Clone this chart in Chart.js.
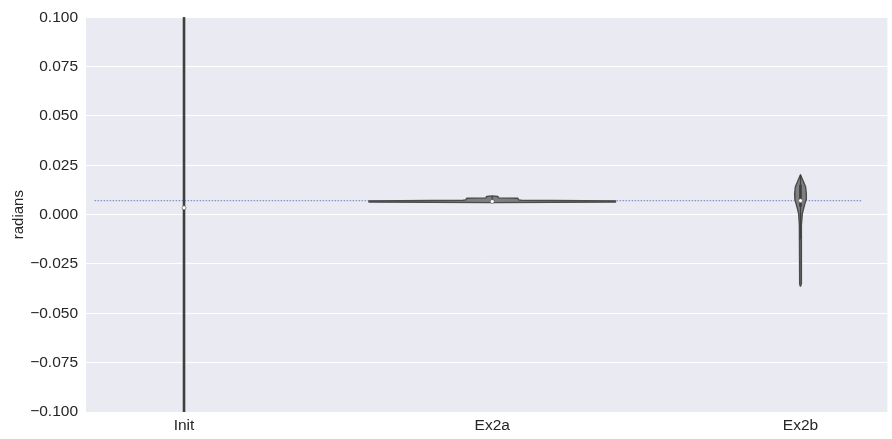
<!DOCTYPE html>
<html>
<head>
<meta charset="utf-8">
<title>radians by run</title>
<script src="https://cdn.jsdelivr.net/npm/chart.js@4.4.1/dist/chart.umd.min.js"></script>
<style>
  html, body { margin: 0; padding: 0; background: #ffffff; }
  #c { display: block; }
</style>
</head>
<body>
<canvas id="c" width="892" height="439"></canvas>
<script>
// Categories along the x axis
const categories = ['Init', 'Ex2a', 'Ex2b'];

// Y tick range
const yMin = -0.1;
const yMax = 0.1;
const yStep = 0.025;

// Violin outlines: value levels (bottom to top) and half-widths in category units
const initLevels     = [-1.0, 1.0];
const initHalfWidths = [0.0005, 0.0005];

const ex2aLevels     = [0.0061, 0.0064, 0.0070, 0.0073, 0.0075, 0.0083, 0.0085, 0.0092, 0.0095];
const ex2aHalfWidths = [0.0,    0.400,  0.400,  0.095,  0.086,  0.083,  0.021,  0.018,  0.0];

const ex2bLevels     = [-0.0364, -0.0352, -0.0263, -0.0152, -0.0051, 0.0005, 0.0040, 0.0076, 0.0106, 0.0141, 0.0177, 0.0202];
const ex2bHalfWidths = [0.0,      0.0025,  0.0025,  0.0028,  0.0036,  0.0060, 0.0115, 0.0180, 0.0190, 0.0165, 0.0070, 0.0];

// Inner box summaries per category
const medians   = [0.0035, 0.0067, 0.0071];
const q1s       = [-1.0, 0.0065, 0.0040];
const q3s       = [1.0, 0.0075, 0.0152];
const whiskerLo = [-1.0, 0.0062, -0.0125];
const whiskerHi = [1.0, 0.0093, 0.0202];

// Dotted reference level
const referenceLevel = 0.0071;
const referenceSpan = [-0.29, 2.2];

const violinFill = '#7f7f7f';
const violinEdge = '#4b4b4b';
const boxColor = '#3f3f3f';
const textColor = '#262626';

function violinOutline(center, levels, halfWidths) {
  const pts = [];
  for (let i = 0; i < levels.length; i++) pts.push({ x: center + halfWidths[i], y: levels[i] });
  for (let i = levels.length - 1; i >= 0; i--) pts.push({ x: center - halfWidths[i], y: levels[i] });
  pts.push({ x: center + halfWidths[0], y: levels[0] });
  return pts;
}

const outlines = [
  [initLevels, initHalfWidths],
  [ex2aLevels, ex2aHalfWidths],
  [ex2bLevels, ex2bHalfWidths]
];

const datasets = [];

// Median markers (drawn on top)
datasets.push({
  type: 'scatter',
  data: medians.map((m, i) => ({ x: i, y: m })),
  pointRadius: 2,
  pointBackgroundColor: '#ffffff',
  pointBorderColor: '#555555',
  pointBorderWidth: 0.6,
  showLine: false,
  order: 0
});

// Interquartile boxes and whiskers
categories.forEach((c, i) => {
  datasets.push({
    type: 'scatter',
    data: [{ x: i, y: q1s[i] }, { x: i, y: q3s[i] }],
    showLine: true,
    borderColor: boxColor,
    borderWidth: 2.6,
    borderCapStyle: 'butt',
    pointRadius: 0,
    fill: false,
    order: 1
  });
  datasets.push({
    type: 'scatter',
    data: [{ x: i, y: whiskerLo[i] }, { x: i, y: whiskerHi[i] }],
    showLine: true,
    borderColor: boxColor,
    borderWidth: 1.2,
    pointRadius: 0,
    fill: false,
    order: 2
  });
});

// Violin bodies
outlines.forEach(([lv, hw], i) => {
  datasets.push({
    type: 'scatter',
    data: violinOutline(i, lv, hw),
    showLine: true,
    fill: 'shape',
    backgroundColor: violinFill,
    borderColor: violinEdge,
    borderWidth: 1.4,
    borderJoinStyle: 'round',
    pointRadius: 0,
    tension: 0,
    order: 3
  });
});

// Reference level (behind everything)
datasets.push({
  type: 'scatter',
  data: [{ x: referenceSpan[0], y: referenceLevel }, { x: referenceSpan[1], y: referenceLevel }],
  showLine: true,
  borderColor: 'rgba(90, 110, 180, 0.7)',
  borderWidth: 1.2,
  borderDash: [1.5, 1.5],
  pointRadius: 0,
  fill: false,
  order: 10
});

const plotBackground = {
  id: 'plotBackground',
  beforeDraw(chart) {
    const { ctx, chartArea: a } = chart;
    ctx.save();
    ctx.fillStyle = '#eaeaf2';
    ctx.fillRect(a.left, a.top, a.right - a.left, a.bottom - a.top);
    ctx.restore();
  }
};

Chart.defaults.font.family = '"Liberation Sans", Arial, sans-serif';
Chart.defaults.color = textColor;

new Chart(document.getElementById('c'), {
  type: 'scatter',
  data: { datasets },
  options: {
    responsive: false,
    animation: false,
    devicePixelRatio: 1,
    layout: { padding: { left: 0, top: 14, right: 4, bottom: 0 } },
    plugins: {
      legend: { display: false },
      tooltip: { enabled: false }
    },
    scales: {
      x: {
        type: 'linear',
        min: -0.318,
        max: 2.282,
        afterBuildTicks(axis) {
          axis.ticks = categories.map((_, i) => ({ value: i }));
        },
        afterFit(scale) { scale.height = 27; },
        grid: { display: false, drawTicks: false },
        border: { display: false },
        ticks: {
          padding: 4,
          font: { size: 15.5 },
          color: textColor,
          maxRotation: 0,
          callback: (v) => categories[v]
        }
      },
      y: {
        type: 'linear',
        min: yMin,
        max: yMax,
        afterFit(scale) { scale.width = 86; },
        grid: { color: '#ffffff', lineWidth: 1, drawTicks: false },
        border: { display: false },
        title: {
          display: true,
          text: 'radians',
          font: { size: 15 },
          color: textColor,
          padding: { top: 10, bottom: 0 }
        },
        ticks: {
          stepSize: yStep,
          padding: 8,
          font: { size: 15.5 },
          color: textColor,
          callback: (v) => {
            const s = Math.abs(v) < 1e-9 ? '0.000' : Number(v).toFixed(3);
            return s.replace('-', '\u2212');
          }
        }
      }
    }
  },
  plugins: [plotBackground]
});
</script>
</body>
</html>
